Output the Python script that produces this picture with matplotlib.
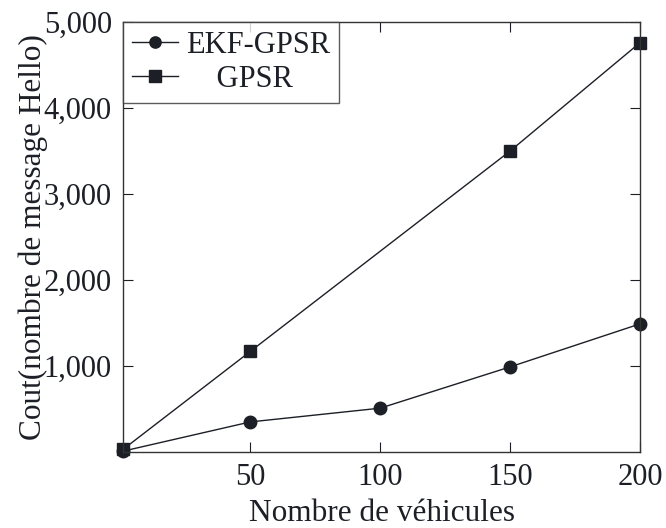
import matplotlib
matplotlib.use("Agg")
import matplotlib.pyplot as plt
from matplotlib.ticker import FuncFormatter

plt.rcParams['font.family'] = ['Liberation Serif', 'DejaVu Serif']

# Number of vehicles
vehicles = [1, 50, 100, 150, 200]
# Hello message cost
ekf_gpsr = [10, 350, 510, 990, 1490]
gpsr = [30, 1170, None, 3500, 4760]

x_ticks = [50, 100, 150, 200]
y_ticks = [1000, 2000, 3000, 4000, 5000]

fig = plt.figure(figsize=(6.66, 5.28), dpi=100)
ax = fig.add_axes([0.1847, 0.1439, 0.7763, 0.8144])

ink = '#1c1f26'
ax.plot(vehicles, ekf_gpsr, '-o', color=ink, lw=1.0, ms=9, label='EKF-GPSR', clip_on=False)
gx = [v for v, g in zip(vehicles, gpsr) if g is not None]
gy = [g for g in gpsr if g is not None]
ax.plot(gx, gy, '-s', color=ink, lw=1.0, ms=9, label='    GPSR', clip_on=False)

ax.set_xlim(1, 200)
ax.set_ylim(0, 5000)
ax.set_xticks(x_ticks)
ax.set_yticks(y_ticks)
ax.yaxis.set_major_formatter(FuncFormatter(lambda v, p: f'{int(v):,}'))
ax.tick_params(direction='in', length=7, width=0.8, top=True, right=True,
               labelsize=22, colors=ink, pad=8)
ax.tick_params(axis='y', pad=8)
for s in ax.spines.values():
    s.set_linewidth(1.0)
    s.set_color('#333333')

ax.set_xlabel('Nombre de véhicules', fontsize=22.5, color=ink, labelpad=5)
ax.set_ylabel('Cout(nombre de message Hello)', fontsize=22.5, color=ink)
ax.yaxis.set_label_coords(-0.145, 0.5)

leg = ax.legend(loc='upper left', fontsize=22, frameon=True, fancybox=False,
                edgecolor='#333333', borderaxespad=0, handlelength=1.5,
                handletextpad=0.25, borderpad=0.3, labelspacing=0.15,
                markerscale=0.9)
leg.get_frame().set_linewidth(1.0)
for t in leg.get_texts():
    t.set_color(ink)

fig.savefig('out.png', dpi=100)
